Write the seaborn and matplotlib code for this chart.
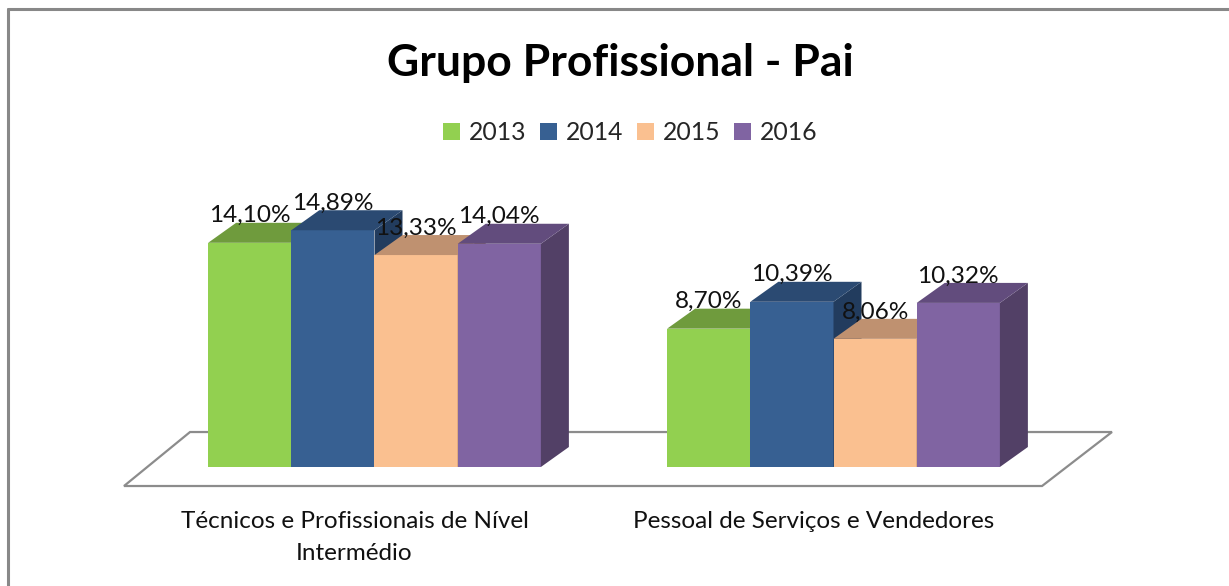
import pandas as pd
import matplotlib
matplotlib.use("Agg")
import matplotlib.pyplot as plt
import matplotlib.transforms as mtransforms
from matplotlib.patches import Polygon, Patch
from matplotlib.lines import Line2D
import seaborn as sns

sns.set_theme(style="white")
plt.rcParams["font.family"] = ["Lato", "DejaVu Sans"]

# ---------------------------------------------------------
# Data
# ---------------------------------------------------------
grupos = ["Técnicos e Profissionais de Nível\nIntermédio",
          "Pessoal de Serviços e Vendedores"]
anos = ["2013", "2014", "2015", "2016"]
valores_2013 = [14.10, 8.70]
valores_2014 = [14.89, 10.39]
valores_2015 = [13.33, 8.06]
valores_2016 = [14.04, 10.32]

cores = ["#92D050", "#376092", "#FAC090", "#8064A2"]
cores_topo = ["#6F9B3D", "#2B4A72", "#BF9170", "#624C7D"]
cores_lado = ["#5A7F31", "#223C5E", "#A07A5E", "#524066"]

rows = []
for ano, vals in zip(anos, [valores_2013, valores_2014, valores_2015, valores_2016]):
    for g, v in zip(grupos, vals):
        rows.append({"grupo": g, "ano": ano, "valor": v})
df = pd.DataFrame(rows)

# ---------------------------------------------------------
# Figure / axes
# ---------------------------------------------------------
W, H = 1229, 586
fig = plt.figure(figsize=(W / 100, H / 100), dpi=100)
ax_l, ax_r, ax_t, ax_b = 100, 1130, 170, 500
ax = fig.add_axes([ax_l / W, (H - ax_b) / H, (ax_r - ax_l) / W, (ax_b - ax_t) / H])

sns.barplot(data=df, x="grupo", y="valor", hue="ano", palette=cores,
            width=0.725, saturation=1, legend=False, ax=ax, linewidth=0)

px_per_unit_x = 459
px_per_unit_y = 15.9
x_left = 0 - (374.5 - ax_l) / px_per_unit_x
ax.set_xlim(x_left, x_left + (ax_r - ax_l) / px_per_unit_x)
ax.set_ylim(-(ax_b - 467) / px_per_unit_y, (467 - ax_t) / px_per_unit_y)

for s in ax.spines.values():
    s.set_visible(False)
ax.set_yticks([])
ax.set_xlabel("")
ax.set_ylabel("")
ax.tick_params(axis="x", length=0, pad=8)
ax.set_xticks([0, 1])
ax.set_xticklabels(grupos, fontsize=17.5, color="#111111", linespacing=1.62)
shift = mtransforms.ScaledTranslation(-20 / 100, 0, fig.dpi_scale_trans)
for lab in ax.get_xticklabels():
    lab.set_transform(lab.get_transform() + shift)

# floor
floor = Polygon([(0.0233, 0.0424), (0.9146, 0.0424), (0.9825, 0.206), (0.0874, 0.206)],
                closed=True, transform=ax.transAxes, facecolor="white",
                edgecolor="#8C8C8C", linewidth=1.6, zorder=1)
ax.add_patch(floor)

# ---------------------------------------------------------
# 3D faces
# ---------------------------------------------------------
fig.canvas.draw()
inv = ax.transData.inverted()
p0 = ax.transData.transform((0, 0))
dxd, dyd = inv.transform((p0[0] + 28, p0[1] + 20)) - inv.transform(p0)

bars = sorted([p for p in ax.patches if isinstance(p, matplotlib.patches.Rectangle) and p.get_height() > 0],
              key=lambda p: p.get_x())
n_anos = len(anos)
for i, p in enumerate(bars):
    k = i % n_anos
    x0 = p.get_x()
    x1 = x0 + p.get_width()
    h = p.get_height()
    z = 3 + i * 0.1
    p.set_zorder(z)
    side = Polygon([(x1, 0), (x1 + dxd, dyd), (x1 + dxd, h + dyd), (x1, h)],
                   closed=True, facecolor=cores_lado[k], edgecolor="none", zorder=z + 0.01)
    top = Polygon([(x0, h), (x1, h), (x1 + dxd, h + dyd), (x0 + dxd, h + dyd)],
                  closed=True, facecolor=cores_topo[k], edgecolor="none", zorder=z + 0.02)
    ax.add_patch(side)
    ax.add_patch(top)
    ax.annotate(f"{h:.2f}%".replace(".", ","), (x0 + p.get_width() / 2, h),
                xytext=(0, 27), textcoords="offset pixels", ha="center", va="center",
                fontsize=17.6, color="#111111", zorder=10)

# ---------------------------------------------------------
# Title, legend, border
# ---------------------------------------------------------
fig.text(620 / W, 1 - 63 / H, "Grupo Profissional - Pai", ha="center", va="center",
         fontsize=32, fontweight="bold", color="black")

handles = [Patch(facecolor=c, edgecolor="none", label=a) for c, a in zip(cores, anos)]
fig.legend(handles=handles, loc="center", bbox_to_anchor=(630 / W, 1 - 132.5 / H), ncol=4,
           frameon=False, fontsize=17.8, handlelength=0.7, handleheight=0.7,
           handletextpad=0.35, columnspacing=0.55)

fig.add_artist(Line2D([7.5 / W, 7.5 / W], [0, 1 - 8.5 / H], color="#888888", lw=2.2,
                      transform=fig.transFigure))
fig.add_artist(Line2D([7.5 / W, 1], [1 - 8.5 / H, 1 - 8.5 / H], color="#888888", lw=2.2,
                      transform=fig.transFigure))

fig.savefig("out.png", dpi=100)
